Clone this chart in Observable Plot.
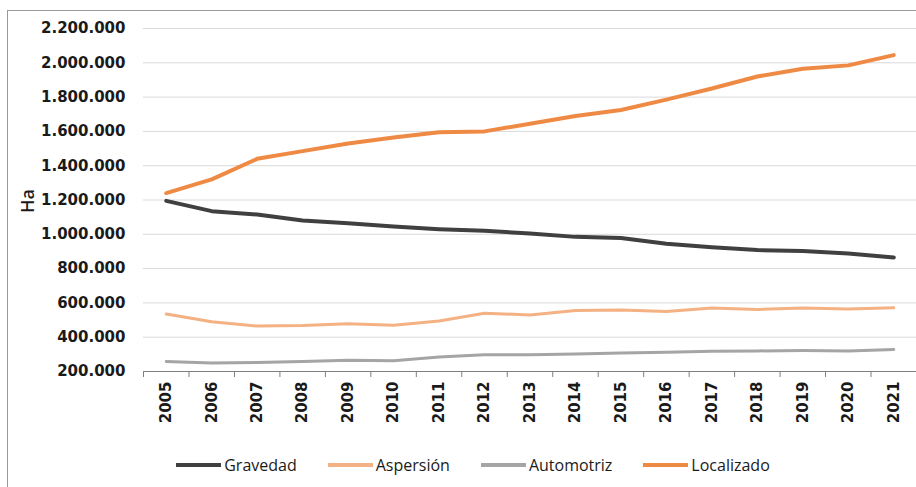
<!DOCTYPE html>
<html>
<head>
<meta charset="utf-8">
<script src="https://cdn.jsdelivr.net/npm/d3@7"></script>
<script src="https://cdn.jsdelivr.net/npm/@observablehq/plot@0.6"></script>
<style>
  html, body { margin: 0; padding: 0; background: #fff; }
  body { width: 916px; height: 487px; position: relative; overflow: hidden; font-family: "Open Sans", sans-serif; }
  #frame { position: absolute; left: 7px; top: 10px; width: 920px; height: 490px; border-left: 1.5px solid #9a9a9a; border-top: 1.5px solid #9a9a9a; }
  #chart { position: absolute; left: 0; top: 0; }
  #legend { position: absolute; left: 0; top: 454px; width: 916px; box-sizing: border-box; padding-left: 30px; display: flex; justify-content: center; gap: 31px; font-size: 16px; color: #1a1a1a; }
  .item { display: flex; align-items: center; }
  .sw { display: inline-block; width: 45px; height: 4px; margin-right: 3px; }
</style>
</head>
<body>
<div id="frame"></div>
<div id="chart"></div>
<div id="legend"></div>
<script>
const years = [2005,2006,2007,2008,2009,2010,2011,2012,2013,2014,2015,2016,2017,2018,2019,2020,2021];
const gravedad   = [1195000,1135000,1115000,1080000,1065000,1045000,1030000,1020000,1005000,985000,978000,945000,925000,908000,903000,888000,865000];
const aspersion  = [535000,490000,465000,468000,478000,470000,495000,540000,530000,555000,558000,550000,570000,562000,570000,565000,572000];
const automotriz = [258000,250000,252000,258000,265000,262000,285000,298000,298000,302000,308000,312000,318000,320000,322000,320000,328000];
const localizado = [1240000,1320000,1440000,1485000,1530000,1565000,1595000,1600000,1645000,1690000,1725000,1785000,1850000,1920000,1965000,1985000,2045000];
const seriesNames = ["Gravedad","Aspersión","Automotriz","Localizado"];
const seriesColors = ["#404040","#f4b183","#a5a5a5","#ef8a45"];
const seriesWidths = [4,3,3,4];
const yTicks = [200000,400000,600000,800000,1000000,1200000,1400000,1600000,1800000,2000000,2200000];

const valuesBy = [gravedad, aspersion, automotriz, localizado];
const data = [];
seriesNames.forEach((s, i) => years.forEach((yr, j) => data.push({serie: s, year: yr, value: valuesBy[i][j]})));
const boundaries = years.map(y => y - 0.5).concat([years[years.length-1] + 0.5]);

const fmt = d3.formatLocale({decimal: ",", thousands: ".", grouping: [3], currency: ["", ""]}).format(",");

const lineMarks = seriesNames.map((s, i) =>
  Plot.line(data.filter(d => d.serie === s), {x: "year", y: "value", stroke: seriesColors[i], strokeWidth: seriesWidths[i], strokeLinejoin: "round", strokeLinecap: "round"})
);

const tickFont = "DejaVu Sans, sans-serif";

const chart = Plot.plot({
  width: 916,
  height: 430,
  marginLeft: 143,
  marginRight: 0,
  marginTop: 28,
  marginBottom: 59,
  style: {fontFamily: "Open Sans, sans-serif", background: "transparent"},
  x: {domain: [years[0] - 0.5, years[years.length-1] + 0.5]},
  y: {domain: [200000, 2200000]},
  marks: [
    Plot.gridY(yTicks, {stroke: "#d9d9d9", strokeOpacity: 1, strokeWidth: 1}),
    Plot.axisY(yTicks, {tickSize: 0, tickPadding: 18, tickFormat: fmt, fontSize: 15, fontWeight: "bold", fontFamily: tickFont, fill: "#1a1a1a", label: null}),
    Plot.ruleY([200000], {stroke: "#7f7f7f", strokeWidth: 1}),
    Plot.axisX(boundaries, {tickSize: 6, tickFormat: () => "", stroke: "#7f7f7f", label: null}),
    Plot.axisX(years, {tickSize: 0, tickPadding: 10, tickRotate: -90, tickFormat: d => String(d), fontSize: 15, fontWeight: "bold", fontFamily: tickFont, fill: "#1a1a1a", label: null}),
    ...lineMarks,
    Plot.text(["Ha"], {frameAnchor: "left", textAnchor: "middle", dx: -115, dy: 1, rotate: -90, fontSize: 18, fontWeight: 600, fill: "#1a1a1a"})
  ]
});
document.getElementById("chart").appendChild(chart);

const legend = document.getElementById("legend");
seriesNames.forEach((s, i) => {
  const it = document.createElement("div");
  it.className = "item";
  const sw = document.createElement("span");
  sw.className = "sw";
  sw.style.background = seriesColors[i];
  const t = document.createElement("span");
  t.textContent = s;
  it.appendChild(sw); it.appendChild(t);
  legend.appendChild(it);
});
</script>
</body>
</html>
